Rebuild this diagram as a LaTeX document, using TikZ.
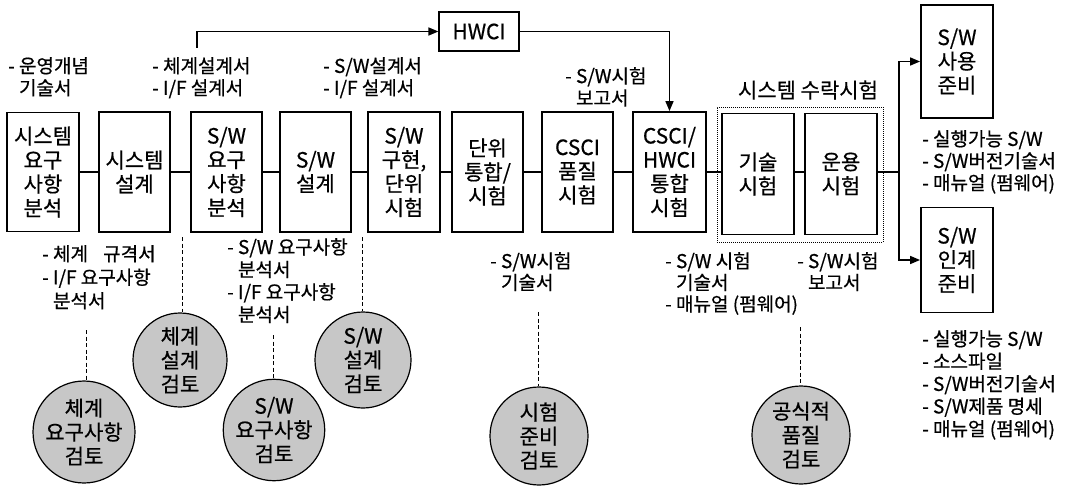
\documentclass[tikz,border=0pt]{standalone}
\usepackage{fontspec}
\setmainfont{Noto Sans CJK KR}[FakeBold=0.6]
\usetikzlibrary{arrows.meta}
\begin{document}
\begin{tikzpicture}[x=1pt,y=-1pt,
  box/.style={draw,line width=1.8pt,minimum width=71pt,minimum height=120pt,inner sep=0pt,align=center,font=\fontsize{21}{24}\selectfont},
  rev/.style={circle,draw,line width=1.2pt,fill=black!22,inner sep=0pt,align=center,font=\fontsize{21}{24}\selectfont},
  lbl/.style={anchor=north west,align=left,inner sep=0pt,font=\fontsize{19}{22}\selectfont},
  conn/.style={line width=1.6pt},
  arr/.style={line width=1.6pt,-{Triangle[length=10pt,width=8pt]}},
  dsh/.style={line width=0.9pt,dash pattern=on 4pt off 2.5pt}]
\useasboundingbox (0,0) rectangle (1074,487);
% main boxes
\node[box,minimum width=72pt,minimum height=119pt] (b1) at (43,172) {시스템\\요구\\사항\\분석};
\node[box] (b2) at (134.5,172) {시스템\\설계};
\node[box] (b3) at (226.5,172) {S/W\\요구\\사항\\분석};
\node[box] (b4) at (315.5,172) {S/W\\설계};
\node[box,minimum width=72pt] (b5) at (404,172) {S/W\\구현,\\단위\\시험};
\node[box] (b6) at (487.5,172) {단위\\통합/\\시험};
\node[box] (b7) at (577.5,172) {CSCI\\품질\\시험};
\node[box,minimum width=73pt] (b8) at (669.5,172) {CSCI/\\HWCI\\통합\\시험};
\node[box,minimum width=72pt,minimum height=121pt] (b9) at (758,174) {기술\\시험};
\node[box,minimum width=72pt,minimum height=121pt] (b10) at (841,174) {운용\\시험};
\node[box,minimum width=72pt,minimum height=113pt] (u1) at (957,61.5) {S/W\\사용\\준비};
\node[box,minimum width=72pt,minimum height=105pt] (u2) at (957,260) {S/W\\인계\\준비};
% acceptance test group
\node[draw,line width=0.8pt,dash pattern=on 1pt off 1pt,minimum width=166pt,minimum height=135pt,inner sep=0pt] (acc) at (800,174.5) {};
\node[font=\fontsize{21}{24}\selectfont,inner sep=0pt] (acct) at (808,90) {시스템 수락시험};
% HWCI
\node[draw,line width=1.2pt,minimum width=80pt,minimum height=39pt,inner sep=0pt,font=\fontsize{21}{24}\selectfont] (hwci) at (479,31.5) {HWCI};
\coordinate (h0) at (197,48);
\draw[arr] (h0) |- (hwci.west);
\draw[arr] (hwci.east) -| (b8.north);
% connectors
\draw[conn] (b1.east) -- (b2.west);
\draw[conn] (b2.east) -- (b3.west);
\draw[conn] (b3.east) -- (b4.west);
\draw[conn] (b4.east) -- (b5.west);
\draw[conn] (b5.east) -- (b6.west);
\draw[conn] (b6.east) -- (b7.west);
\draw[conn] (b7.east) -- (b8.west);
\draw[conn] (b8.east) -- (b9.west |- b8.east);
\draw[conn] (b9.east |- b8.east) -- (b10.west |- b8.east);
\coordinate (j) at (899,172);
\draw[conn] (b10.east |- j) -- (j);
\draw[arr] ([yshift=-0.8pt]j) |- (u1.west);
\draw[arr] ([yshift=0.8pt]j) |- (u2.west);
% labels top
\node[lbl] (l1) at (8,57) {- 운영개념\\\phantom{- }기술서};
\node[lbl] (l2) at (152,57) {- 체계설계서\\- I/F 설계서};
\node[lbl] (l3) at (323,57) {- S/W설계서\\- I/F 설계서};
\node[lbl] (l4) at (565,67) {- S/W시험\\\phantom{- }보고서};
\node[lbl] (r1) at (922,130) {- 실행가능 S/W\\- S/W버전기술서\\- 매뉴얼 (펌웨어)};
% labels bottom
\node[lbl,font=\fontsize{19}{23.5}\selectfont] (m1) at (42,245) {- 체계\hspace{0.8em}규격서\\- I/F 요구사항\\\phantom{- }분석서};
\node[lbl,font=\fontsize{19}{22.5}\selectfont] (m2) at (227,238) {- S/W 요구사항\\\phantom{- }분석서\\- I/F 요구사항\\\phantom{- }분석서};
\node[lbl,font=\fontsize{19}{21.5}\selectfont] (m3) at (490,252) {- S/W시험\\\phantom{- }기술서};
\node[lbl,font=\fontsize{19}{21.5}\selectfont] (m4) at (665,252) {- S/W 시험\\\phantom{- }기술서\\- 매뉴얼 (펌웨어)};
\node[lbl,font=\fontsize{19}{21.5}\selectfont] (m5) at (797,252) {- S/W시험\\\phantom{- }보고서};
\node[lbl,font=\fontsize{19}{22.5}\selectfont] (r2) at (922,330) {- 실행가능 S/W\\- 소스파일\\- S/W버전기술서\\- S/W제품 명세\\- 매뉴얼 (펌웨어)};
% review circles
\node[rev,minimum size=88pt] (c1) at (84,432) {체계\\요구사항\\검토};
\node[rev,minimum size=94pt] (c2) at (180,360) {체계\\설계\\검토};
\node[rev,minimum size=92pt] (c3) at (274,430) {S/W\\요구사항\\검토};
\node[rev,minimum size=96pt] (c4) at (363,360) {S/W\\설계\\검토};
\node[rev,minimum size=98pt] (c5) at (539,436) {시험\\준비\\검토};
\node[rev,minimum size=98pt] (c6) at (801,435) {공식적\\품질\\검토};
\coordinate (d1) at (86,330);
\coordinate (d2) at (182,237);
\coordinate (d3) at (273,335);
\coordinate (d4) at (362,237);
\coordinate (d5) at (538,312);
\coordinate (d6) at (800,327);
\draw[dsh] (d1) -- (d1 |- c1.north);
\draw[dsh] (d2) -- (d2 |- c2.north);
\draw[dsh] (d3) -- (d3 |- c3.north);
\draw[dsh] (d4) -- (d4 |- c4.north);
\draw[dsh] (d5) -- (d5 |- c5.north);
\draw[dsh] (d6) -- (d6 |- c6.north);
\end{tikzpicture}
\end{document}
